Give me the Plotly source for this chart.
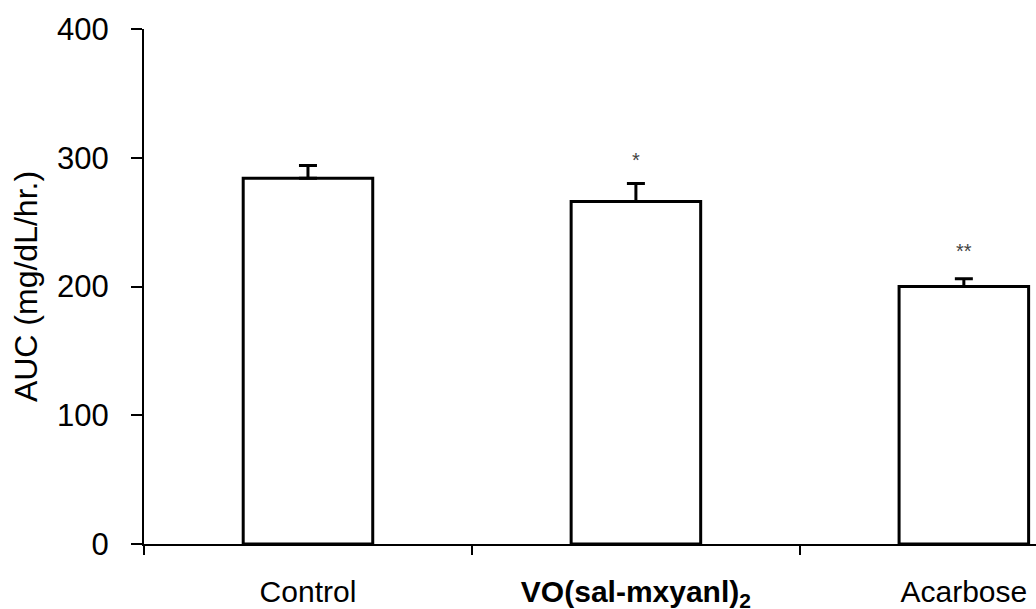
import plotly.graph_objects as go

categories = ["Control", "VO(sal-mxyanl)2", "Acarbose"]
tick_labels = ["Control", "<b>VO(sal-mxyanl)<sub>2</sub></b>", "Acarbose"]
auc_values = [284, 266, 200]
auc_errors = [10, 14, 6]
significance = ["", "*", "**"]

fig = go.Figure()
fig.add_trace(go.Bar(
    x=categories,
    y=auc_values,
    width=0.395,
    marker=dict(color="white", line=dict(color="black", width=3)),
    error_y=dict(type="data", array=auc_errors, arrayminus=[0] * len(auc_errors),
                 symmetric=False, color="black", thickness=3, width=9),
    showlegend=False,
))

star_shift = [0, 24, 28]
for cat, v, e, s, sh in zip(categories, auc_values, auc_errors, significance, star_shift):
    if s:
        fig.add_annotation(x=cat, y=v + e, text=s, showarrow=False, yanchor="middle",
                           yshift=sh, font=dict(family="Liberation Sans, Arial", size=20, color="#444444"))

# x-axis line extension left of the y-axis
fig.add_shape(type="line", xref="paper", yref="y", x0=-11 / 892, x1=0, y0=0, y1=0,
              line=dict(color="black", width=2))

fig.update_layout(
    width=1036, height=609,
    margin=dict(l=144, r=0, t=29, b=65),
    plot_bgcolor="white", paper_bgcolor="white",
    font=dict(family="Liberation Sans, Arial", color="black"),
    bargap=0.6,
)
fig.update_xaxes(
    type="category", range=[-0.5, 2.22], automargin=False,
    tickmode="array", tickvals=categories, ticktext=tick_labels,
    tickson="boundaries", ticks="outside", ticklen=9, tickwidth=2, tickcolor="black",
    showline=True, linecolor="black", linewidth=2, showgrid=False, zeroline=False,
    tickfont=dict(size=30), ticklabelstandoff=20,
)
fig.update_yaxes(
    range=[0, 400], tickvals=[0, 100, 200, 300, 400], automargin=False,
    ticks="outside", ticklen=11, tickwidth=2, tickcolor="black",
    showline=True, linecolor="black", linewidth=2, showgrid=False, zeroline=False,
    tickfont=dict(size=31), ticklabelstandoff=16,
    title=dict(text="AUC (mg/dL/hr.)", font=dict(size=32), standoff=10),
)

fig.write_html("out.html", config={"displayModeBar": False},
               post_script="document.body.style.margin='0';")
